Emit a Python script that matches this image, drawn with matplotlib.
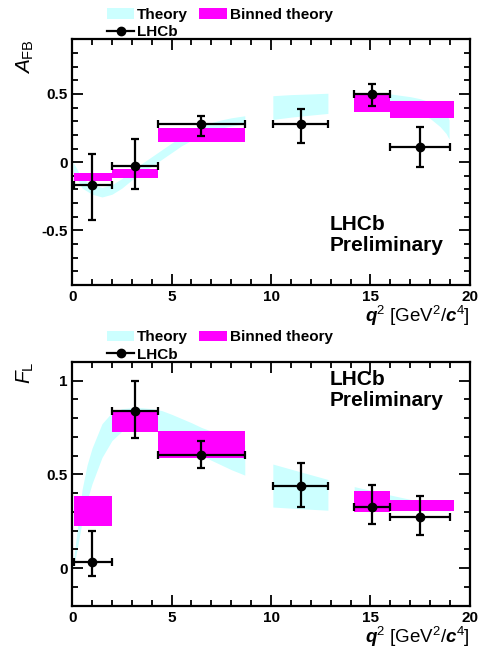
import numpy as np
import matplotlib
matplotlib.use("Agg")
import matplotlib.pyplot as plt
from matplotlib.patches import Patch
from matplotlib.lines import Line2D
from matplotlib.ticker import MultipleLocator

plt.rcParams['font.family'] = ['Liberation Sans', 'DejaVu Sans']
plt.rcParams['mathtext.fontset'] = 'custom'
plt.rcParams['mathtext.rm'] = 'Liberation Sans'
plt.rcParams['mathtext.it'] = 'Liberation Sans:italic'
plt.rcParams['mathtext.bf'] = 'Liberation Sans:bold'
plt.rcParams['mathtext.bfit'] = 'Liberation Sans:italic:bold'

# q2 bins and LHCb measurements
bin_lo = [0.1, 2.0, 4.3, 10.09, 14.18, 16.0]
bin_hi = [2.0, 4.3, 8.68, 12.86, 16.0, 19.0]
q2_pts = [1.0, 3.15, 6.5, 11.5, 15.1, 17.5]

afb = [-0.17, -0.03, 0.28, 0.28, 0.50, 0.11]
afb_err_hi = [0.23, 0.20, 0.06, 0.11, 0.07, 0.145]
afb_err_lo = [0.25, 0.17, 0.09, 0.14, 0.09, 0.145]

fl = [0.035, 0.84, 0.605, 0.44, 0.325, 0.275]
fl_err_hi = [0.163, 0.16, 0.074, 0.12, 0.12, 0.11]
fl_err_lo = [0.074, 0.145, 0.07, 0.115, 0.09, 0.10]

# binned theory (no prediction in the 10-13 bin)
binned_lo = [0.1, 2.0, 4.3, 14.18, 16.0]
binned_hi = [2.0, 4.3, 8.68, 16.0, 19.2]
afb_bin_lo = [-0.14, -0.115, 0.15, 0.37, 0.32]
afb_bin_hi = [-0.08, -0.05, 0.25, 0.495, 0.445]
fl_bin_lo = [0.227, 0.724, 0.588, 0.30, 0.303]
fl_bin_hi = [0.387, 0.831, 0.731, 0.412, 0.364]

# theory band, three q2 regions
afb_th_q2_1 = [0.05, 0.5, 1.0, 1.5, 2.0, 2.5, 3.0, 3.5, 4.0, 4.5, 5.0, 5.5, 6.0, 6.5, 7.0, 7.5, 8.0, 8.68]
afb_th_lo_1 = [-0.07, -0.19, -0.235, -0.255, -0.235, -0.19, -0.13, -0.08, -0.03, 0.02, 0.07, 0.12, 0.16, 0.195, 0.225, 0.25, 0.265, 0.28]
afb_th_hi_1 = [0.0, -0.12, -0.165, -0.185, -0.165, -0.12, -0.06, -0.01, 0.04, 0.09, 0.14, 0.185, 0.225, 0.26, 0.29, 0.31, 0.325, 0.34]
afb_th_q2_2 = [10.09, 11.0, 12.0, 12.86]
afb_th_lo_2 = [0.313, 0.33, 0.345, 0.357]
afb_th_hi_2 = [0.487, 0.495, 0.5, 0.505]
afb_th_q2_3 = [14.18, 15.0, 16.0, 17.0, 17.5, 18.0, 18.5, 18.8, 18.95]
afb_th_lo_3 = [0.42, 0.43, 0.42, 0.39, 0.36, 0.32, 0.26, 0.21, 0.17]
afb_th_hi_3 = [0.50, 0.51, 0.50, 0.48, 0.465, 0.44, 0.40, 0.36, 0.31]

fl_th_q2_1 = [0.05, 0.25, 0.5, 0.75, 1.0, 1.5, 2.0, 2.5, 3.0, 3.5, 4.0, 4.5, 5.0, 6.0, 6.5, 7.0, 7.5, 8.0, 8.68]
fl_th_lo_1 = [0.0, 0.1, 0.25, 0.36, 0.45, 0.59, 0.68, 0.73, 0.75, 0.755, 0.75, 0.73, 0.70, 0.63, 0.60, 0.575, 0.55, 0.525, 0.496]
fl_th_hi_1 = [0.03, 0.2, 0.42, 0.55, 0.64, 0.77, 0.83, 0.85, 0.855, 0.855, 0.85, 0.84, 0.82, 0.775, 0.75, 0.73, 0.71, 0.69, 0.66]
fl_th_q2_2 = [10.09, 11.5, 12.86]
fl_th_lo_2 = [0.326, 0.317, 0.309]
fl_th_hi_2 = [0.555, 0.513, 0.473]
fl_th_q2_3 = [14.18, 15.0, 16.0, 17.0, 18.0, 19.0]
fl_th_lo_3 = [0.37, 0.355, 0.335, 0.32, 0.31, 0.305]
fl_th_hi_3 = [0.435, 0.415, 0.39, 0.367, 0.355, 0.345]

x_ticks = [0, 5, 10, 15, 20]
x_ticklabels = ['0', '5', '10', '15', '20']
afb_ticks = [-0.5, 0, 0.5]
afb_ticklabels = ['-0.5', '0', '0.5']
fl_ticks = [0, 0.5, 1]
fl_ticklabels = ['0', '0.5', '1']

CYAN = '#ccffff'
MAGENTA = '#ff00ff'


def draw_panel(ax, vals, err_lo, err_hi, b_lo, b_hi, bands, ylim, yticks, yticklabels, ylabel, prelim_y):
    for q2, lo, hi in bands:
        ax.fill_between(q2, lo, hi, color=CYAN, lw=0, zorder=1)
    b_lo = np.array(b_lo)
    b_hi = np.array(b_hi)
    ax.bar(binned_lo, b_hi - b_lo, bottom=b_lo,
           width=np.array(binned_hi) - np.array(binned_lo),
           align='edge', color=MAGENTA, lw=0, zorder=2)
    q = np.array(q2_pts)
    ax.errorbar(q, vals, xerr=[q - np.array(bin_lo), np.array(bin_hi) - q],
                yerr=[err_lo, err_hi], fmt='o', color='k', ms=6, lw=1.6,
                capsize=3, capthick=1.6, zorder=3)

    ax.set_xlim(0, 20)
    ax.set_ylim(*ylim)
    ax.set_xticks(x_ticks)
    ax.set_xticklabels(x_ticklabels, fontweight='bold', fontsize=11)
    ax.set_yticks(yticks)
    ax.set_yticklabels(yticklabels, fontweight='bold', fontsize=11)
    ax.xaxis.set_minor_locator(MultipleLocator(1))
    ax.yaxis.set_minor_locator(MultipleLocator(0.1))
    ax.tick_params(which='both', direction='in', top=True, right=True, width=1.3)
    ax.tick_params(which='major', length=8)
    ax.tick_params(which='minor', length=4.5)
    ax.tick_params(axis='x', pad=3.5)
    ax.tick_params(axis='y', pad=3)
    for s in ax.spines.values():
        s.set_linewidth(1.6)

    ax.annotate(ylabel, xy=(0, 1), xycoords='axes fraction', xytext=(-34, 0),
                textcoords='offset points', rotation=90, ha='center', va='top', fontsize=15)
    ax.annotate(r'$\mathbfit{q}^{2}$ [GeV$^{2}$/$\mathbfit{c}^{4}$]',
                xy=(1, 0), xycoords='axes fraction', xytext=(0, -26.5),
                textcoords='offset points', ha='right', va='baseline', fontsize=13.5)

    ax.text(0.648, prelim_y[0], 'LHCb', transform=ax.transAxes, fontsize=15,
            fontweight='bold', va='center', ha='left')
    ax.text(0.648, prelim_y[1], 'Preliminary', transform=ax.transAxes, fontsize=15,
            fontweight='bold', va='center', ha='left')

    handles = [Patch(facecolor=CYAN, edgecolor='none'),
               Line2D([], [], color='k', marker='o', ms=6, lw=1.6),
               Patch(facecolor=MAGENTA, edgecolor='none')]
    labels = ['Theory', 'LHCb', 'Binned theory']
    ax.legend(handles, labels, ncol=2, loc='upper left', bbox_to_anchor=(0.087, 1.128),
              frameon=False, borderpad=0, borderaxespad=0, handlelength=1.8,
              handletextpad=0.2, columnspacing=0.7, labelspacing=0.22,
              prop={'weight': 'bold', 'size': 11})


fig = plt.figure(figsize=(4.81, 6.5), dpi=100)
ax1 = fig.add_axes([0.150, 0.5615, 0.827, 0.378])
ax2 = fig.add_axes([0.150, 0.068, 0.827, 0.3755])

afb_bands = [(afb_th_q2_1, afb_th_lo_1, afb_th_hi_1),
             (afb_th_q2_2, afb_th_lo_2, afb_th_hi_2),
             (afb_th_q2_3, afb_th_lo_3, afb_th_hi_3)]
fl_bands = [(fl_th_q2_1, fl_th_lo_1, fl_th_hi_1),
            (fl_th_q2_2, fl_th_lo_2, fl_th_hi_2),
            (fl_th_q2_3, fl_th_lo_3, fl_th_hi_3)]

draw_panel(ax1, afb, afb_err_lo, afb_err_hi, afb_bin_lo, afb_bin_hi, afb_bands,
           (-0.9, 0.9), afb_ticks, afb_ticklabels, r'$\mathit{A}_{\mathrm{FB}}$', (0.248, 0.16))
draw_panel(ax2, fl, fl_err_lo, fl_err_hi, fl_bin_lo, fl_bin_hi, fl_bands,
           (-0.2, 1.1), fl_ticks, fl_ticklabels, r'$\mathit{F}_{\mathrm{L}}$', (0.928, 0.843))

fig.savefig('out.png', dpi=100)
